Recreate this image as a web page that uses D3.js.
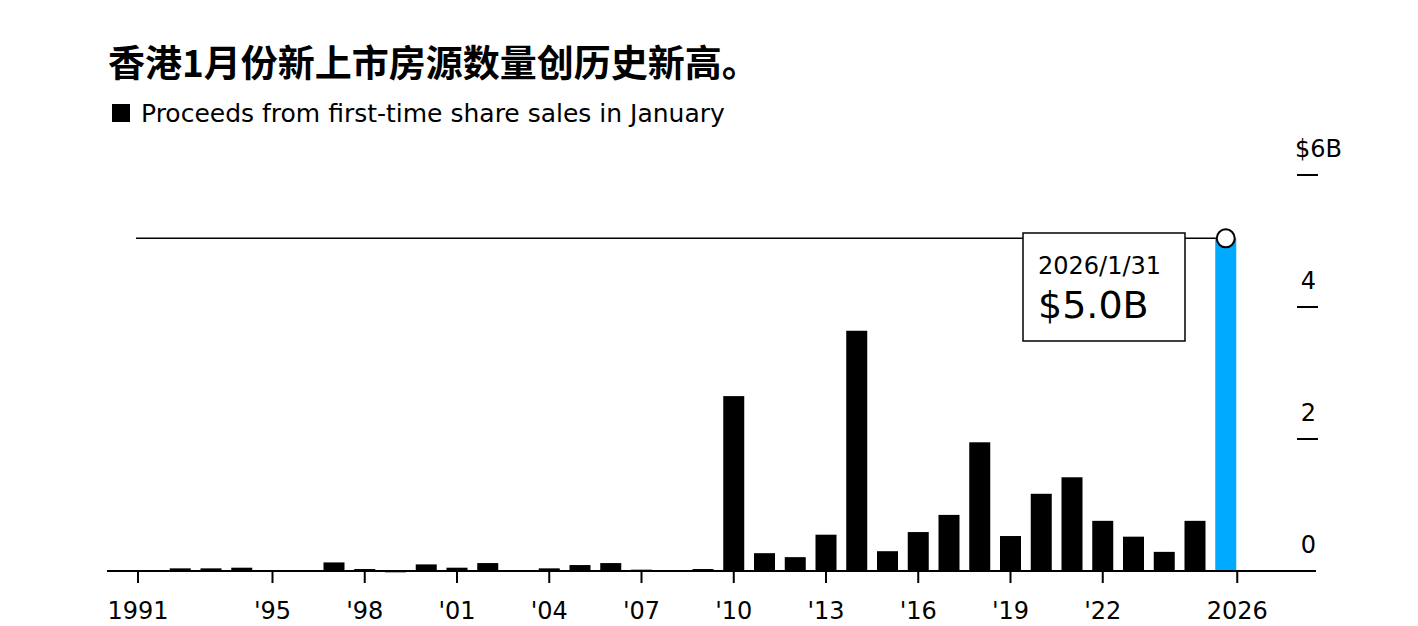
<!DOCTYPE html>
<html><head><meta charset="utf-8">
<script src="https://cdn.jsdelivr.net/npm/d3@7"></script>
<style>
body{margin:0;background:#fff;font-family:"DejaVu Sans","Noto Sans CJK SC",sans-serif;}
</style></head>
<body><div id="chart"></div>
<script>
const years = d3.range(1991, 2027);
const proceeds = [0.01,0.04,0.04,0.05,0.00,-0.01,0.13,0.03,-0.02,0.10,0.05,0.12,0.00,0.04,0.09,0.12,0.02,-0.01,0.03,
  2.65,0.27,0.21,0.55,3.64,0.30,0.59,0.85,1.95,0.53,1.17,1.42,0.76,0.52,0.29,0.76,5.04];
const tickYears = [1991,1995,1998,2001,2004,2007,2010,2013,2016,2019,2022,2026];
const yTicks = [0,2,4,6];

const width = 1418, height = 626;
const svg = d3.select("#chart").append("svg").attr("width", width).attr("height", height);

const y = d3.scaleLinear().domain([0, 6]).range([571, 175]);
const xBand = d3.scaleBand().domain(years).range([139, 1236.25]).paddingInner(0.317).paddingOuter(0).align(0);
// ticks sit mid-bar, first at the bar's left edge and last at its right edge
const tickX = t => t === 1991 ? xBand(t) - 1 : t === 2026 ? xBand(t) + xBand.bandwidth() + 1 : xBand(t) + xBand.bandwidth() / 2;

// title
svg.append("text").attr("x", 108).attr("y", 77)
  .attr("font-family", "'Noto Sans CJK SC',sans-serif").attr("font-weight", 700).attr("font-size", 37)
  .text("香港1月份新上市房源数量创历史新高。");
svg.append("rect").attr("x", 112).attr("y", 104).attr("width", 18).attr("height", 18).attr("fill", "#000");
svg.append("text").attr("x", 141).attr("y", 122).attr("font-size", 25).text("Proceeds from first-time share sales in January");

// y axis labels and ticks
yTicks.forEach(t => {
  svg.append("text").attr("y", y(t) - 18).attr("text-anchor", "end")
    .attr("font-size", 24).text(t === 6 ? "$6B" : t)
    .attr("x", t === 6 ? 1342 : 1316);
  if (t > 0) svg.append("line").attr("x1", 1297).attr("x2", 1318).attr("y1", y(t)).attr("y2", y(t))
    .attr("stroke", "#000").attr("stroke-width", 2);
});

// reference line at latest value
const last = proceeds[proceeds.length - 1];
svg.append("line").attr("x1", 136).attr("x2", xBand(2026) + xBand.bandwidth() / 2)
  .attr("y1", y(last)).attr("y2", y(last)).attr("stroke", "#000").attr("stroke-width", 1.5);

// bars
svg.append("g").selectAll("rect").data(years).join("rect")
  .attr("x", d => xBand(d))
  .attr("width", xBand.bandwidth())
  .attr("y", (d, i) => y(Math.max(0, proceeds[i])))
  .attr("height", (d, i) => Math.abs(y(proceeds[i]) - y(0)))
  .attr("fill", d => d === 2026 ? "#00aaff" : "#000");

// baseline + x ticks
svg.append("line").attr("x1", 107).attr("x2", 1316).attr("y1", y(0)).attr("y2", y(0))
  .attr("stroke", "#000").attr("stroke-width", 2);
tickYears.forEach(t => {
  svg.append("line").attr("x1", tickX(t)).attr("x2", tickX(t)).attr("y1", y(0)).attr("y2", y(0) + 12)
    .attr("stroke", "#000").attr("stroke-width", 2);
  svg.append("text").attr("x", tickX(t)).attr("y", 619).attr("text-anchor", "middle").attr("font-size", 24)
    .text(t === 1991 || t === 2026 ? t : "'" + String(t).slice(2));
});

// annotation
svg.append("rect").attr("x", 1023).attr("y", 233).attr("width", 162).attr("height", 108)
  .attr("fill", "#fff").attr("stroke", "#000").attr("stroke-width", 1.5);
svg.append("text").attr("x", 1038).attr("y", 274).attr("font-size", 24).text("2026/1/31");
svg.append("text").attr("x", 1038).attr("y", 318).attr("font-size", 38).text("$" + last.toFixed(1) + "B");
svg.append("circle").attr("cx", xBand(2026) + xBand.bandwidth() / 2).attr("cy", y(last)).attr("r", 9)
  .attr("fill", "#fff").attr("stroke", "#000").attr("stroke-width", 2);
</script></body></html>
